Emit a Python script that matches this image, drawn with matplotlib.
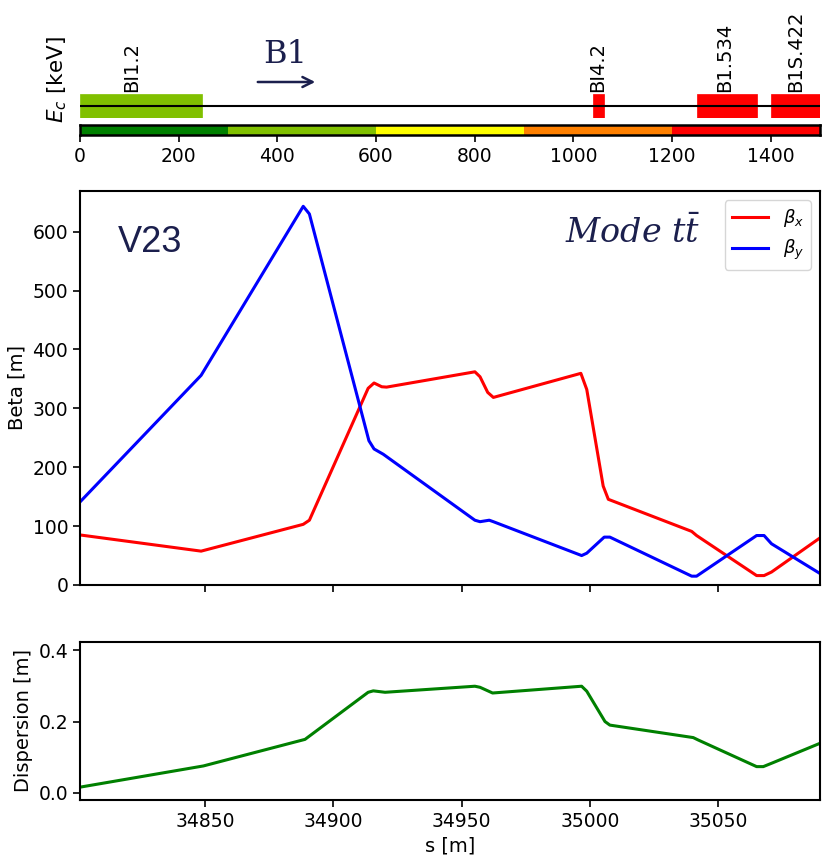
import matplotlib
matplotlib.use("Agg")
import matplotlib.pyplot as plt
from matplotlib.patches import Rectangle, FancyArrowPatch

# ---------------- data ----------------
s_betx = [34801.3, 34848.5, 34888.3, 34890.7, 34913.6, 34915.9, 34918.9, 34920.8,
          34955.2, 34957.2, 34960.2, 34962.4, 34996.5, 34998.8, 35005.2, 35007.2,
          35039.7, 35041.6, 35065.0, 35067.9, 35070.8, 35089.7]
betx = [85, 57.5, 103, 110, 334, 343, 336.6, 336,
        362, 353.6, 327, 318.5, 359.4, 332, 168, 145.5,
        91, 84, 16, 16, 22, 80]

s_bety = [34801.3, 34848.5, 34888.3, 34890.7, 34913.9, 34915.9, 34919.5,
          34955.2, 34957.2, 34960.8, 34962.4, 34996.8, 34998.8, 35005.6, 35007.8,
          35039.7, 35041.6, 35065.0, 35067.9, 35070.8, 35089.7]
bety = [141, 356, 643, 630, 245, 231, 222,
        110, 107.5, 110, 107.5, 50, 54, 81.3, 81.3,
        15, 15, 84, 84, 70, 19.5]

s_disp = [34801.3, 34849.4, 34889.0, 34890.3, 34913.6, 34915.6, 34920.2,
          34955.2, 34957.2, 34962.1, 34996.8, 34998.8, 35005.9, 35007.8,
          35040.3, 35042.3, 35065.0, 35067.6, 35071.5, 35089.7]
disp = [0.016, 0.0755, 0.150, 0.157, 0.282, 0.286, 0.282,
        0.299, 0.296, 0.280, 0.299, 0.285, 0.200, 0.190,
        0.155, 0.148, 0.0736, 0.0736, 0.085, 0.139]

elem_names = ["BI1.2", "BI4.2", "B1.534", "B1S.422"]
elem_start = [0, 1040, 1250, 1401]
elem_end = [248, 1062, 1372, 1500]
elem_label_x = [105, 1049, 1307, 1451]
elem_colors = ["#80c000", "#ff0000", "#ff0000", "#ff0000"]

ec_edges = [0, 300, 600, 900, 1200, 1500]
ec_colors = ["#008000", "#80c000", "#ffff00", "#ff8000", "#ff0000"]
ec_ticks = [0, 200, 400, 600, 800, 1000, 1200, 1400]

beta_yticks = [0, 100, 200, 300, 400, 500, 600]
disp_yticks = [0.0, 0.2, 0.4]
s_ticks = [34850, 34900, 34950, 35000, 35050]

NAVY = "#1b1f4d"
W, H = 827, 866

def rect(l, t, r, b):
    return [l / W, 1 - b / H, (r - l) / W, (b - t) / H]

fig = plt.figure(figsize=(W / 100, H / 100), dpi=100)

TICK = 13.5
LAB = 14

# ---------------- element strip ----------------
ax_el = fig.add_axes(rect(80, 93.5, 820, 117.5))
ax_el.set_xlim(0, 1500)
ax_el.set_ylim(-1, 1)
for sp in ax_el.spines.values():
    sp.set_visible(False)
ax_el.set_xticks([])
ax_el.set_yticks([])
for name, a, b, lx, c in zip(elem_names, elem_start, elem_end, elem_label_x, elem_colors):
    ax_el.add_patch(Rectangle((a, -1), b - a, 2, facecolor=c, edgecolor=c, alpha=1.0, lw=0.5))
    ax_el.text(lx, 1.1, name, rotation=90, ha="center", va="bottom", fontsize=14, clip_on=False)
ax_el.axhline(0, color="black", lw=1.5)

fig.text(57 / W, 1 - 80 / H, r"$E_c$ [keV]", rotation=90, ha="center", va="center", fontsize=15.5)

fig.text(285 / W, 1 - 63 / H, "B1", fontsize=23, family="DejaVu Serif", color=NAVY,
         ha="center", va="baseline")
arr = FancyArrowPatch((255 / W, 1 - 82 / H), (318 / W, 1 - 82 / H), transform=fig.transFigure,
                      arrowstyle="->", mutation_scale=18, color=NAVY, lw=1.8)
fig.patches.append(arr)

# ---------------- Ec colour bar ----------------
ax_cb = fig.add_axes(rect(80, 125, 820, 135))
ax_cb.set_xlim(0, 1500)
ax_cb.set_ylim(0, 1)
for i in range(len(ec_colors)):
    ax_cb.barh(0.5, ec_edges[i + 1] - ec_edges[i], left=ec_edges[i], height=1,
               color=ec_colors[i], edgecolor="none")
ax_cb.set_yticks([])
ax_cb.set_xticks(ec_ticks)
ax_cb.tick_params(axis="x", labelsize=TICK, width=1.2, length=5)
for sp in ax_cb.spines.values():
    sp.set_linewidth(1.8)

# ---------------- beta functions ----------------
ax1 = fig.add_axes(rect(80, 191, 820, 585))
ax1.plot(s_betx, betx, color="red", lw=2.2, label=r"$\beta_x$")
ax1.plot(s_bety, bety, color="blue", lw=2.2, label=r"$\beta_y$")
ax1.set_xlim(34801.3, 35089.7)
ax1.set_ylim(0, 669)
ax1.set_yticks(beta_yticks)
ax1.set_xticks(s_ticks)
ax1.set_xticklabels([])
ax1.set_ylabel("Beta [m]", fontsize=LAB)
ax1.tick_params(labelsize=TICK, width=1.2, length=5)
for sp in ax1.spines.values():
    sp.set_linewidth(1.5)
ax1.legend(loc="upper right", fontsize=13, handlelength=2.0)
ax1.text(118 / W, 1 - 252 / H, "V23", transform=fig.transFigure, fontsize=26,
         family="Liberation Sans", color=NAVY, ha="left", va="baseline")
ax1.text(565 / W, 1 - 243 / H, r"$\mathit{Mode}\ t\bar{t}$", transform=fig.transFigure,
         fontsize=24, color=NAVY, ha="left", va="baseline", math_fontfamily="dejavuserif")

# ---------------- dispersion ----------------
ax2 = fig.add_axes(rect(80, 642, 820, 800))
ax2.plot(s_disp, disp, color="green", lw=2.2)
ax2.set_xlim(34801.3, 35089.7)
ax2.set_ylim(-0.02, 0.423)
ax2.set_yticks(disp_yticks)
ax2.set_yticklabels(["0.0", "0.2", "0.4"])
ax2.set_xticks(s_ticks)
ax2.set_xlabel("s [m]", fontsize=LAB)
ax2.set_ylabel("Dispersion [m]", fontsize=LAB)
ax2.tick_params(labelsize=TICK, width=1.2, length=5)
for sp in ax2.spines.values():
    sp.set_linewidth(1.5)

fig.savefig("out.png", dpi=100)
